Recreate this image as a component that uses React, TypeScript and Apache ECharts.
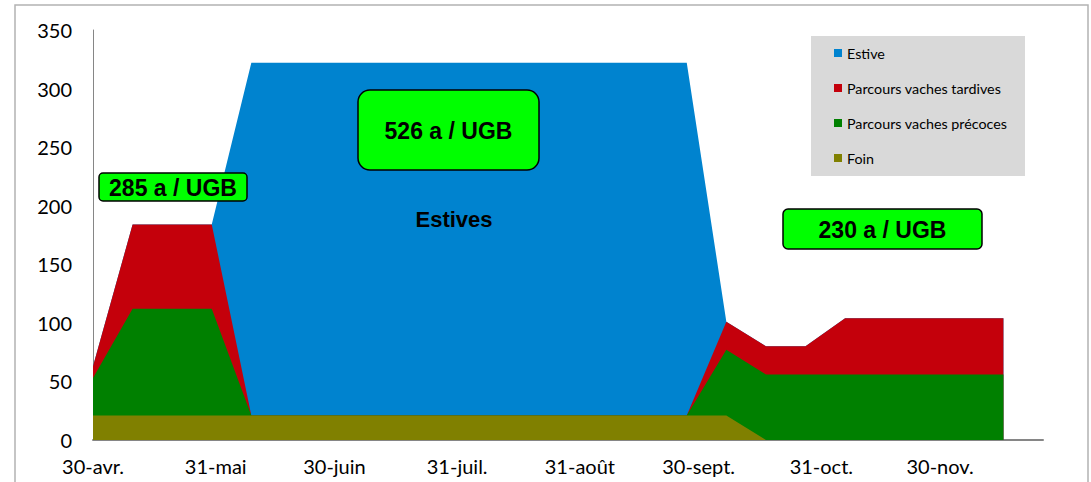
import React, { useEffect, useRef } from "react";
import * as echarts from "echarts";

// days since 30 April
const days = [0, 10, 30, 40, 150, 160, 170, 180, 190, 230];
const foin = [21, 21, 21, 21, 21, 21, 0, 0, 0, 0];
const precoces = [32, 91, 91, 0, 0, 56, 56, 56, 56, 56];
const tardives = [10, 72, 72, 0, 0, 24, 24, 24, 48, 48];
const estive = [0, 0, 0, 301, 301, 0, 0, 0, 0, 0];

const tickDays = [0, 31, 61, 92, 123, 153, 184, 214];
const tickLabels = ["30-avr.", "31-mai", "30-juin", "31-juil.", "31-août", "30-sept.", "31-oct.", "30-nov."];

const seriesNames = ["Foin", "Parcours vaches précoces", "Parcours vaches tardives", "Estive"];
const seriesColors = ["#808000", "#008000", "#C4000B", "#0083CF"];
const legendOrder = ["Estive", "Parcours vaches tardives", "Parcours vaches précoces", "Foin"];

const annotations = [
  { text: "285 a / UGB", x: 99, y: 173, w: 148, h: 28, r: 4 },
  { text: "526 a / UGB", x: 358, y: 90, w: 181, h: 80, r: 12 },
  { text: "230 a / UGB", x: 783, y: 209, w: 199, h: 40, r: 5 },
];

export default function App() {
  const ref = useRef<HTMLDivElement>(null);
  useEffect(() => {
    if (!ref.current) return;
    const chart = echarts.init(ref.current, null, { renderer: "svg" });
    const values = [foin, precoces, tardives, estive];
    // cumulative stacking (bottom: Foin ... top: Estive)
    const cumulative: number[][] = [];
    values.forEach((arr, si) => {
      cumulative.push(arr.map((v, i) => v + (si > 0 ? cumulative[si - 1][i] : 0)));
    });
    const graphics: any[] = [
      {
        type: "rect",
        shape: { x: 15, y: 5, width: 1073, height: 490 },
        style: { fill: "none", stroke: "#b3b3b3", lineWidth: 1.5 },
        silent: true,
        z: 0,
      },
      {
        type: "rect",
        shape: { x: 811, y: 36, width: 214, height: 140 },
        style: { fill: "#d9d9d9" },
        z: 4,
      },
    ];
    annotations.forEach((a) => {
      graphics.push({
        type: "rect",
        shape: { x: a.x, y: a.y, width: a.w, height: a.h, r: a.r },
        style: { fill: "#00FF00", stroke: "#000", lineWidth: 1.5 },
        z: 10,
      });
      graphics.push({
        type: "text",
        x: a.x + a.w / 2,
        y: a.y + a.h / 2 + 1,
        style: {
          text: a.text,
          fill: "#000",
          font: "bold 23px 'Liberation Sans', Arial, sans-serif",
          align: "center",
          verticalAlign: "middle",
        },
        z: 11,
      });
    });
    graphics.push({
      type: "text",
      x: 454,
      y: 219,
      style: {
        text: "Estives",
        fill: "#000",
        font: "bold 22px 'Liberation Sans', Arial, sans-serif",
        align: "center",
        verticalAlign: "middle",
      },
      z: 11,
    });

    // draw back-to-front: Estive (largest cumulative) first
    const order = [3, 2, 1, 0];
    chart.setOption({
      animation: false,
      grid: { left: 93, right: 48, top: 30, bottom: 42, containLabel: false },
      legend: {
        orient: "vertical",
        left: 829,
        top: 40,
        itemWidth: 8,
        itemHeight: 8,
        itemGap: 19,
        icon: "rect",
        data: legendOrder,
        textStyle: { fontFamily: "Lato, sans-serif", fontSize: 14.3, lineHeight: 16, color: "#000" },
        z: 6,
      },
      xAxis: {
        type: "value",
        min: 0,
        max: 240,
        axisLine: { show: true, lineStyle: { color: "#868686", width: 2 } },
        axisTick: { show: false },
        splitLine: { show: false },
        axisLabel: {
          customValues: tickDays,
          formatter: (v: number) => {
            const i = tickDays.indexOf(v);
            return i >= 0 ? tickLabels[i] : "";
          },
          fontFamily: "Lato, sans-serif",
          fontSize: 20,
          color: "#000",
          margin: 16,
        },
      },
      yAxis: {
        type: "value",
        min: 0,
        max: 350,
        interval: 50,
        axisLine: { show: true, lineStyle: { color: "#868686", width: 1 } },
        axisTick: { show: false },
        splitLine: { show: false },
        axisLabel: { fontFamily: "Lato, sans-serif", fontSize: 20, color: "#000", margin: 21 },
      },
      graphic: graphics,
      series: order.map((si, k) => ({
        name: seriesNames[si],
        type: "line",
        symbol: "none",
        z: 2 + k * 0.1,
        lineStyle: { width: 0 },
        itemStyle: { color: seriesColors[si] },
        areaStyle: { color: seriesColors[si], opacity: 1, origin: 0 },
        data: days.map((d, i) => [d, cumulative[si][i]]),
      })),
    });
    return () => chart.dispose();
  }, []);
  return (
    <div
      ref={ref}
      style={{ position: "fixed", left: 0, top: 0, width: 1091, height: 482, background: "#fff" }}
    />
  );
}
